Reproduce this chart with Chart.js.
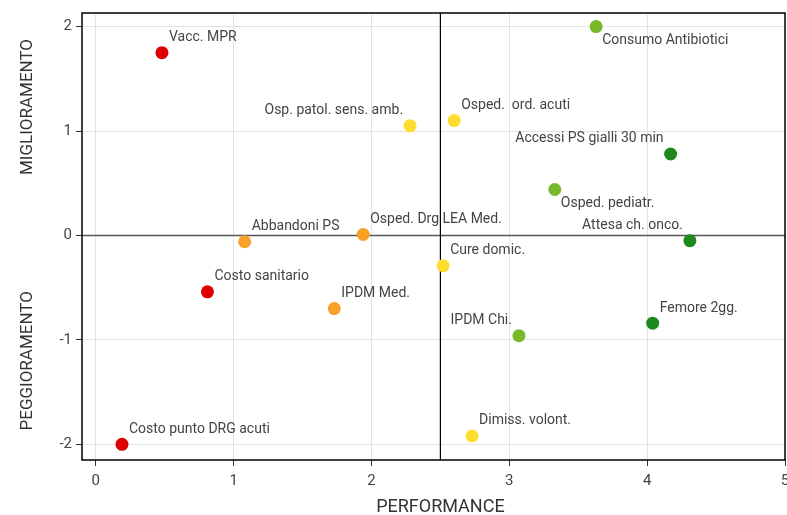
<!DOCTYPE html>
<html>
<head>
<meta charset="utf-8">
<script src="https://cdn.jsdelivr.net/npm/chart.js@4"></script>
<style>
  html, body { margin: 0; padding: 0; background: #fff; }
  #wrap { width: 787px; height: 515px; }
</style>
</head>
<body>
<div id="wrap"><canvas id="chart" width="787" height="515"></canvas></div>
<script>
// indicator names, performance (x) and trend (y)
const names = [
  "Vacc. MPR", "Consumo Antibiotici", "Osp. patol. sens. amb.", "Osped.  ord. acuti",
  "Accessi PS gialli 30 min", "Osped. pediatr.", "Attesa ch. onco.", "Osped. Drg LEA Med.",
  "Abbandoni PS", "Cure domic.", "Costo sanitario", "IPDM Med.",
  "IPDM Chi.", "Femore 2gg.", "Dimiss. volont.", "Costo punto DRG acuti"
];
const performance = [0.48, 3.63, 2.28, 2.60, 4.17, 3.33, 4.31, 1.94, 1.08, 2.52, 0.81, 1.73, 3.07, 4.04, 2.73, 0.19];
const trend = [1.75, 2.00, 1.05, 1.10, 0.78, 0.44, -0.05, 0.01, -0.06, -0.29, -0.54, -0.70, -0.96, -0.84, -1.92, -2.00];
const band = ["red", "lgreen", "yellow", "yellow", "dgreen", "lgreen", "dgreen", "orange",
  "orange", "yellow", "red", "orange", "lgreen", "dgreen", "yellow", "red"];
const xTicks = [0, 1, 2, 3, 4, 5];
const yTicks = [-2, -1, 0, 1, 2];

// styling
const bandColor = { red: "#dd0000", orange: "#f8a128", yellow: "#fedd2e", lgreen: "#78b92a", dgreen: "#1e8a1e" };
// label placement: ne = above right, se = below right, nw = above left
const placement = ["ne", "se", "nw", "ne", "nw", "se", "nw", "ne", "ne", "ne", "ne", "ne", "nw", "ne", "ne", "ne"];
const FONT = "Roboto, 'DejaVu Sans', sans-serif";

const points = performance.map((x, i) => ({ x: x, y: trend[i] }));

const overlay = {
  id: "overlay",
  beforeDatasetsDraw(chart) {
    const { ctx, chartArea: a, scales: { x, y } } = chart;
    ctx.save();
    // zero line
    ctx.strokeStyle = "#555";
    ctx.lineWidth = 1.5;
    ctx.beginPath();
    ctx.moveTo(a.left, y.getPixelForValue(0));
    ctx.lineTo(a.right, y.getPixelForValue(0));
    ctx.stroke();
    // threshold line
    ctx.strokeStyle = "#000";
    ctx.lineWidth = 1.2;
    ctx.beginPath();
    ctx.moveTo(x.getPixelForValue(2.5), a.top);
    ctx.lineTo(x.getPixelForValue(2.5), a.bottom);
    ctx.stroke();
    // frame
    ctx.lineWidth = 1.5;
    ctx.strokeRect(a.left, a.top, a.right - a.left, a.bottom - a.top);
    ctx.restore();
  },
  afterDatasetsDraw(chart) {
    const { ctx, scales: { x, y } } = chart;
    ctx.save();
    ctx.font = "14px " + FONT;
    ctx.fillStyle = "#444";
    ctx.textBaseline = "middle";
    points.forEach((p, i) => {
      const px = x.getPixelForValue(p.x);
      const py = y.getPixelForValue(p.y);
      const pos = placement[i];
      if (pos === "ne") {
        ctx.textAlign = "left";
        ctx.fillText(names[i], px + 7, py - 15);
      } else if (pos === "se") {
        ctx.textAlign = "left";
        ctx.fillText(names[i], px + 6, py + 14);
      } else {
        ctx.textAlign = "right";
        ctx.fillText(names[i], px - 7, py - 15);
      }
    });
    // axis titles
    ctx.fillStyle = "#333";
    ctx.textAlign = "center";
    ctx.textBaseline = "middle";
    ctx.font = "18px " + FONT;
    ctx.fillText("PERFORMANCE", x.getPixelForValue(2.5), 507);
    ctx.font = "17px " + FONT;
    [["MIGLIORAMENTO", 1.23], ["PEGGIORAMENTO", -1.2]].forEach(([t, v]) => {
      ctx.save();
      ctx.translate(28, y.getPixelForValue(v));
      ctx.rotate(-Math.PI / 2);
      ctx.fillText(t, 0, 0);
      ctx.restore();
    });
    ctx.restore();
  }
};

new Chart(document.getElementById("chart"), {
  type: "scatter",
  data: {
    datasets: [{
      data: points,
      pointRadius: 6.5,
      pointHoverRadius: 6.5,
      pointBorderWidth: 0,
      backgroundColor: band.map(b => bandColor[b]),
      borderColor: band.map(b => bandColor[b])
    }]
  },
  options: {
    responsive: false,
    animation: false,
    layout: { autoPadding: false, padding: { top: 12, right: 2, left: 0, bottom: 0 } },
    plugins: { legend: { display: false }, tooltip: { enabled: false } },
    scales: {
      x: {
        type: "linear",
        min: -0.1,
        max: 5.0,
        afterBuildTicks: s => { s.ticks = xTicks.map(v => ({ value: v })); },
        ticks: { font: { size: 15, family: FONT }, color: "#444", padding: 6 },
        grid: { color: "#e3e3e3", tickColor: "#333", tickLength: 6 },
        border: { display: false },
        afterFit: s => { s.height = 55; s.paddingRight = 0; s.paddingLeft = 0; }
      },
      y: {
        type: "linear",
        min: -2.15,
        max: 2.13,
        afterBuildTicks: s => { s.ticks = yTicks.map(v => ({ value: v })); },
        ticks: { font: { size: 15, family: FONT }, color: "#444", padding: 4 },
        grid: { color: "#e3e3e3", tickColor: "#333", tickLength: 6 },
        border: { display: false },
        afterFit: s => { s.width = 82; }
      }
    }
  },
  plugins: [overlay]
});
</script>
</body>
</html>
